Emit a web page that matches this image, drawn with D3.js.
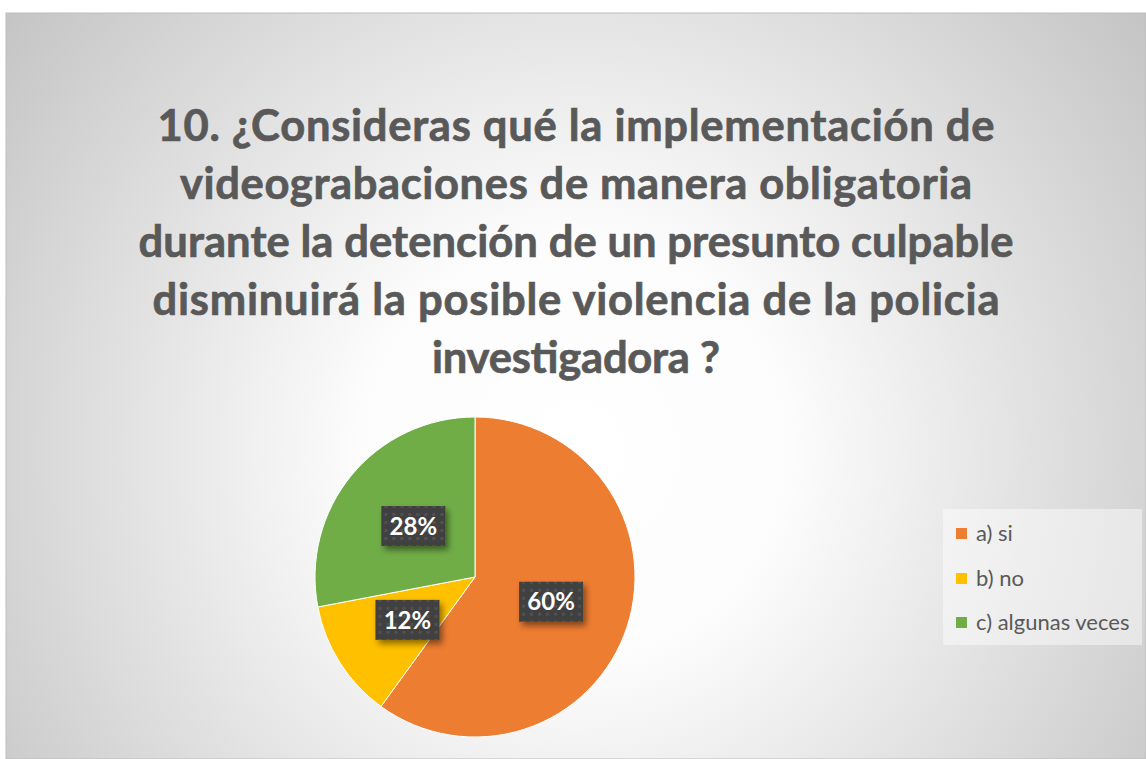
<!DOCTYPE html>
<html><head><meta charset="utf-8">
<script src="https://cdn.jsdelivr.net/npm/d3@7"></script>
<style>html,body{margin:0;padding:0;background:#fff;}svg{display:block;}</style>
</head><body>
<script>
const categories = ["a) si", "b) no", "c) algunas veces"];
const values = [60, 12, 28];
const colors = ["#ED7D31", "#FFC000", "#70AD47"];
const titleLines = [
  "10. ¿Consideras qué la implementación de",
  "videograbaciones de manera obligatoria",
  "durante la detención de un presunto culpable",
  "disminuirá la posible violencia de la policia",
  "investigadora ?"
];

const W = 1146, H = 759;
const svg = d3.select("body").append("svg").attr("width", W).attr("height", H);
const defs = svg.append("defs");

const rg = defs.append("radialGradient").attr("id", "bg")
  .attr("gradientUnits", "userSpaceOnUse")
  .attr("cx", 575).attr("cy", 450).attr("r", 720);
rg.append("stop").attr("offset", "0").attr("stop-color", "#ffffff");
rg.append("stop").attr("offset", "0.3").attr("stop-color", "#fcfcfc");
rg.append("stop").attr("offset", "0.65").attr("stop-color", "#e0e0e0");
rg.append("stop").attr("offset", "1").attr("stop-color", "#c4c4c4");

const pat = defs.append("pattern").attr("id", "dots").attr("patternUnits", "userSpaceOnUse")
  .attr("width", 8).attr("height", 8);
pat.append("rect").attr("width", 8).attr("height", 8).attr("fill", "#404040");
pat.append("rect").attr("x", 3).attr("y", 3).attr("width", 3).attr("height", 3).attr("fill", "#515151");

const flt = defs.append("filter").attr("id", "shadow").attr("x", "-30%").attr("y", "-30%").attr("width", "160%").attr("height", "170%");
flt.append("feDropShadow").attr("dx", 3).attr("dy", 4).attr("stdDeviation", 3).attr("flood-color", "#000").attr("flood-opacity", 0.45);

// chart area
svg.append("rect").attr("x", 6).attr("y", 13).attr("width", W - 6).attr("height", H - 13)
  .attr("fill", "url(#bg)").attr("stroke", "#bdbdbd").attr("stroke-width", 1);

// title
const titleG = svg.append("g").attr("font-family", "Lato, 'Open Sans', sans-serif")
  .attr("font-weight", "bold").attr("fill", "#595959").attr("stroke", "#595959")
  .attr("stroke-width", 0.7).attr("text-anchor", "middle");
const baselines = [141, 199, 257, 315, 373];
const lineWidths = [837, 792, 875, 847, 288];
titleLines.forEach((t, i) => {
  titleG.append("text").attr("x", 576).attr("y", baselines[i]).attr("font-size", 44).text(t);
});
let maxW = 0;
titleG.selectAll("text").each(function () { maxW = Math.max(maxW, this.getComputedTextLength()); });
const fs = 44 * 872 / maxW;
titleG.selectAll("text").attr("font-size", fs)
  .attr("textLength", (d, i) => lineWidths[i]).attr("lengthAdjust", "spacing");

// pie
const cx = 475, cy = 577, R = 160;
const pie = d3.pie().sort(null).value(d => d)(values);
const arc = d3.arc().innerRadius(0).outerRadius(R);
const labelArc = d3.arc().innerRadius(R * 0.5).outerRadius(R * 0.5);
const pg = svg.append("g").attr("transform", `translate(${cx},${cy})`);
pg.selectAll("path").data(pie).join("path")
  .attr("d", arc).attr("fill", (d, i) => colors[i])
  .attr("stroke", "#ffffff").attr("stroke-width", 1);

const total = d3.sum(values);
const lg = pg.selectAll("g.lab").data(pie).join("g").attr("class", "lab")
  .attr("transform", d => `translate(${labelArc.centroid(d)})`);
lg.append("rect").attr("x", -32).attr("y", -20).attr("width", 64).attr("height", 40)
  .attr("fill", "url(#dots)").attr("filter", "url(#shadow)");
lg.append("text").attr("text-anchor", "middle").attr("dy", "0.36em")
  .attr("font-family", "Lato, 'Open Sans', sans-serif").attr("font-weight", "bold")
  .attr("font-size", 24).attr("fill", "#ffffff")
  .text(d => Math.round(d.data / total * 100) + "%");

// legend
const leg = svg.append("g");
leg.append("rect").attr("x", 943).attr("y", 509).attr("width", 199).attr("height", 136)
  .attr("fill", "#ffffff").attr("fill-opacity", 0.45);
const legY = [533, 578, 622];
categories.forEach((c, i) => {
  leg.append("rect").attr("x", 956).attr("y", legY[i] - 5).attr("width", 11).attr("height", 11).attr("fill", colors[i]);
  leg.append("text").attr("x", 976).attr("y", legY[i]).attr("dy", "0.35em")
    .attr("font-family", "Lato, 'Open Sans', sans-serif").attr("font-size", 22).attr("fill", "#595959").text(c);
});
</script>
</body></html>
